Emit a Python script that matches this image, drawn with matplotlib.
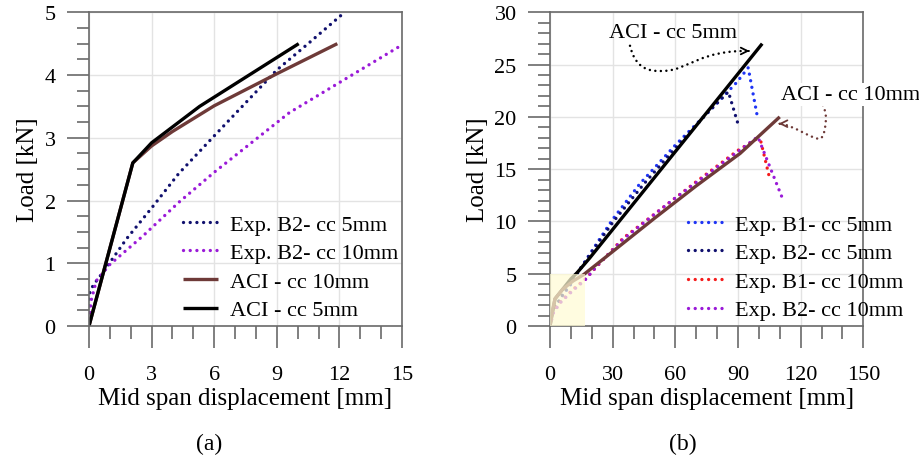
import matplotlib
matplotlib.use("Agg")
import matplotlib.pyplot as plt
from matplotlib.path import Path
from matplotlib.patches import PathPatch, Rectangle
from matplotlib.ticker import MultipleLocator

plt.rcParams['font.family'] = ['Liberation Serif', 'DejaVu Serif']

# ---------------- Data: panel (a) ----------------
a_b2_5_x = [0, 0, 0.2, 0.7, 1.8, 3.0, 4.3, 6.0, 9.0, 10.5, 12.25]
a_b2_5_y = [0, 0.5, 0.65, 0.87, 1.39, 1.88, 2.43, 3.03, 4.08, 4.5, 5.0]
a_b2_10_x = [0, 0.1, 0.35, 1.0, 2.6, 4.3, 6.0, 9.6, 11.9, 14.8]
a_b2_10_y = [0, 0.4, 0.72, 0.98, 1.44, 1.97, 2.45, 3.4, 3.86, 4.44]
a_aci_10_x = [0, 2.1, 3.0, 4.0, 6.0, 9.0, 11.9]
a_aci_10_y = [0, 2.6, 2.87, 3.1, 3.51, 4.02, 4.5]
a_aci_5_x = [0, 2.1, 3.0, 5.3, 10.05]
a_aci_5_y = [0, 2.6, 2.92, 3.5, 4.5]

# ---------------- Data: panel (b) ----------------
b_b1_5_x = [0, 1, 2.4, 6.4, 10.4, 12.8, 19.1, 30, 43, 60, 78, 89.4, 94.9, 99.3]
b_b1_5_y = [0, 1.3, 1.7, 3.0, 4.1, 4.9, 6.9, 10.2, 13.6, 17.3, 20.9, 23.3, 24.7, 20.0]
b_b2_5_x = [0, 1, 2.4, 6, 10, 12.5, 19, 30, 45, 60, 75, 85.4, 90.5]
b_b2_5_y = [0, 1.2, 1.8, 3.0, 4.1, 4.9, 6.8, 9.9, 13.6, 17.0, 20.3, 22.4, 19.0]
b_b1_10_x = [0, 1.5, 5, 11, 17, 22, 35, 50, 70, 90, 99, 101, 105.3]
b_b1_10_y = [0, 1.3, 2.3, 3.5, 4.5, 5.6, 8.4, 10.7, 13.8, 16.8, 17.9, 17.6, 14.0]
b_b2_10_x = [0, 1.5, 4.8, 11, 16.8, 22.3, 35, 59, 81.4, 99.5, 110.9]
b_b2_10_y = [0, 1.2, 2.2, 3.4, 4.4, 5.7, 8.3, 12.1, 15.4, 18.1, 12.4]
b_aci_5_x = [0, 2.4, 6, 10, 13, 19, 101.6]
b_aci_5_y = [0, 2.6, 3.5, 4.5, 5.1, 6.5, 27.0]
b_aci_10_x = [0, 1.2, 2.4, 6, 11, 16, 25.5, 50, 70, 91, 110]
b_aci_10_y = [0, 1.5, 2.6, 3.5, 4.3, 4.9, 6.4, 10.3, 13.4, 16.5, 20.0]

labels_a = ['Exp. B2- cc 5mm', 'Exp. B2- cc 10mm', 'ACI - cc 10mm', 'ACI - cc 5mm']
labels_b = ['Exp. B1- cc 5mm', 'Exp. B2- cc 5mm', 'Exp. B1- cc 10mm', 'Exp. B2- cc 10mm']
xticks_a = [0, 3, 6, 9, 12, 15]
yticks_a = [0, 1, 2, 3, 4, 5]
xticks_b = [0, 30, 60, 90, 120, 150]
yticks_b = [0, 5, 10, 15, 20, 25, 30]

# annotation curves (data coords, cubic bezier control points)
ann5_path = [(38.3, 26.8), (41, 24.6), (47, 24.3), (55, 24.4),
             (66, 24.5), (72, 26.4), (95.5, 26.3)]
ann10_path = [(127.7, 22.0), (129.5, 21.6), (132.3, 20.8), (132.1, 19.8),
              (131.9, 18.7), (130.7, 17.9), (129, 17.9),
              (125, 17.9), (116, 19.3), (109.5, 19.35)]

NAVY = '#10106e'
BLUE = '#1f35f5'
PURPLE = '#9a1ad8'
RED = '#f51c1c'
BROWN = '#6e3a38'
SPINE = '#6a6a6a'

fig = plt.figure(figsize=(9.2, 4.56), dpi=100)
axa = fig.add_axes([89/920, 1-327/456, 313/920, 313.7/456])
axb = fig.add_axes([550/920, 1-327/456, 313.3/920, 313.7/456])

dot = dict(linestyle=(0, (0.01, 2.0)), dash_capstyle='round', linewidth=2.4)
solid = dict(linestyle='-', linewidth=2.4, solid_capstyle='butt')

def style(ax, xmaj, xmin, ymaj, ymin, xlim, ylim):
    ax.set_xlim(*xlim)
    ax.set_ylim(*ylim)
    ax.xaxis.set_major_locator(MultipleLocator(xmaj))
    ax.xaxis.set_minor_locator(MultipleLocator(xmin))
    ax.yaxis.set_major_locator(MultipleLocator(ymaj))
    ax.yaxis.set_minor_locator(MultipleLocator(ymin))
    ax.grid(True, which='major', color='#e3e3e3', linewidth=1.0, zorder=0)
    ax.set_axisbelow(True)
    for s in ax.spines.values():
        s.set_color(SPINE)
        s.set_linewidth(1.2)
    ax.tick_params(which='major', direction='out', length=16, width=1.2,
                   color=SPINE, labelsize=16)
    ax.tick_params(which='minor', direction='out', length=9, width=1.2,
                   color=SPINE)
    ax.tick_params(axis='x', which='major', pad=12)
    ax.tick_params(axis='y', which='major', pad=8)
    ax.set_xlabel('Mid span displacement [mm]', fontsize=18, labelpad=2)
    ax.set_ylabel('Load [kN]', fontsize=18, labelpad=4)

# ---- panel (a) ----
axa.plot(a_b2_5_x, a_b2_5_y, color=NAVY, label=labels_a[0], **dot)
axa.plot(a_b2_10_x, a_b2_10_y, color=PURPLE, label=labels_a[1], **dot)
axa.plot(a_aci_10_x, a_aci_10_y, color=BROWN, label=labels_a[2], **solid)
axa.plot(a_aci_5_x, a_aci_5_y, color='black', label=labels_a[3], **solid)
style(axa, 3, 1, 1, 0.25, (0, 15), (0, 5))
axa.set_xticks(xticks_a)
axa.set_yticks(yticks_a)
axa.legend(loc='lower left', bbox_to_anchor=(0.3, 0.018), frameon=False,
           fontsize=16, handlelength=1.6, handletextpad=0.5,
           labelspacing=0.36, borderpad=0, borderaxespad=0)

# ---- panel (b) ----
axb.plot(b_b1_5_x, b_b1_5_y, color=BLUE, label=labels_b[0], **dot)
axb.plot(b_b2_5_x, b_b2_5_y, color=NAVY, label=labels_b[1], **dot)
axb.plot(b_aci_5_x, b_aci_5_y, color='black', **solid)
axb.plot(b_b1_10_x, b_b1_10_y, color=RED, label=labels_b[2], **dot)
axb.plot(b_b2_10_x, b_b2_10_y, color=PURPLE, label=labels_b[3], **dot)
axb.plot(b_aci_10_x, b_aci_10_y, color=BROWN, **solid)
style(axb, 30, 10, 5, 1, (0, 150), (0, 30))
axb.set_xticks(xticks_b)
axb.set_yticks(yticks_b)
axb.add_patch(Rectangle((0, 0), 16.7, 5, facecolor='#fffbd4', alpha=0.72,
                        edgecolor='none', zorder=5))
axb.legend(loc='lower left', bbox_to_anchor=(0.44, 0.018), frameon=False,
           fontsize=16, handlelength=1.6, handletextpad=0.5,
           labelspacing=0.36, borderpad=0, borderaxespad=0)

# annotations
codes5 = [Path.MOVETO] + [Path.CURVE4] * 6
axb.add_patch(PathPatch(Path(ann5_path, codes5), fill=False, edgecolor='black',
                        linestyle=(0, (0.01, 2.2)), linewidth=1.8,
                        capstyle='round', zorder=6))
e5 = ann5_path[-1]
axb.annotate('', xy=e5, xytext=(e5[0] - 0.5, e5[1]),
             arrowprops=dict(arrowstyle='->', color='black', lw=1.3,
                             shrinkA=0, shrinkB=0, mutation_scale=12))
axb.text(59, 28.1, 'ACI - cc 5mm', fontsize=16, ha='center', va='center')

codes10 = [Path.MOVETO] + [Path.CURVE4] * 9
axb.add_patch(PathPatch(Path(ann10_path, codes10), fill=False, edgecolor=BROWN,
                        linestyle=(0, (0.01, 2.2)), linewidth=1.8,
                        capstyle='round', zorder=6, clip_on=False))
e10 = ann10_path[-1]
axb.annotate('', xy=e10, xytext=(e10[0] + 0.5, e10[1]),
             arrowprops=dict(arrowstyle='->', color=BROWN, lw=1.3,
                             shrinkA=0, shrinkB=0, mutation_scale=12))
axb.text(110.8, 22.1, 'ACI - cc 10mm', fontsize=16, ha='left', va='center',
         clip_on=False, zorder=7,
         bbox=dict(facecolor='white', edgecolor='none', pad=1.5))

fig.text(209/920, 1-444/456, '(a)', fontsize=17, ha='center', va='center')
fig.text(683/920, 1-444/456, '(b)', fontsize=17, ha='center', va='center')

fig.savefig('out.png', dpi=100)
